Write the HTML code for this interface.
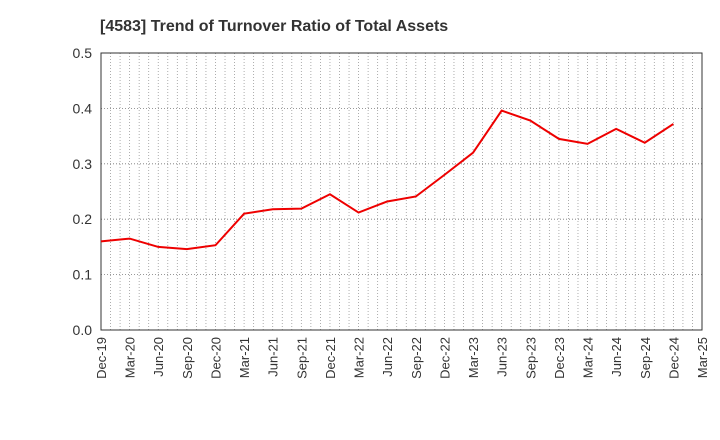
<!DOCTYPE html>
<html><head><meta charset="utf-8"><style>body{margin:0;background:#fff}svg{display:block;font-family:"Liberation Sans",sans-serif}</style></head>
<body>
<svg id="c" width="720" height="440">
<text x="100" y="31" font-size="16" font-weight="bold" fill="#333">[4583]  Trend of Turnover Ratio of Total Assets</text>
</svg>
<script>
const categories=["Dec-19","Mar-20","Jun-20","Sep-20","Dec-20","Mar-21","Jun-21","Sep-21","Dec-21","Mar-22","Jun-22","Sep-22","Dec-22","Mar-23","Jun-23","Sep-23","Dec-23","Mar-24","Jun-24","Sep-24","Dec-24","Mar-25"];
const values=[0.160,0.165,0.150,0.146,0.153,0.210,0.218,0.219,0.245,0.212,0.232,0.241,0.280,0.320,0.396,0.378,0.345,0.336,0.363,0.338,0.372];
const yTicks=[0,0.1,0.2,0.3,0.4,0.5];
const yTickLabels=["0.0","0.1","0.2","0.3","0.4","0.5"];
const L=101,R=702,T=53,B=330,NS="http://www.w3.org/2000/svg",svg=document.getElementById('c');
const months=(categories.length-1)*3;
const x=i=>L+(R-L)*i/(categories.length-1);
const xm=m=>L+(R-L)*m/months;
const y=v=>B-(B-T)*v/0.5;
function mk(t,a,p){const e=document.createElementNS(NS,t);for(const k in a)e.setAttribute(k,a[k]);(p||svg).appendChild(e);return e;}
for(let m=1;m<months;m++){const l=mk('line',{x1:xm(m),x2:xm(m),y1:T,y2:B,stroke:'#999','stroke-width':0.8,'stroke-dasharray':'1,2'});

}
yTicks.forEach((v,i)=>{if(v>0&&v<0.5){const g=mk('line',{x1:L,x2:R,y1:y(v),y2:y(v),stroke:'#777','stroke-width':0.8,'stroke-dasharray':'1,2'});

}
const t=mk('text',{x:L-9,y:y(v)+5,'text-anchor':'end','font-size':14,fill:'#333'});t.textContent=yTickLabels[i];

});
categories.forEach((c,i)=>{const t=mk('text',{transform:`translate(${x(i)+5},337) rotate(-90)`,'text-anchor':'end','font-size':13,fill:'#333'});t.textContent=c;

});
const f=mk('rect',{x:L,y:T,width:R-L,height:B-T,fill:'none',stroke:'#333','stroke-width':1});


const p=mk('polyline',{points:values.map((v,i)=>x(i)+','+y(v)).join(' '),fill:'none',stroke:'#e00','stroke-width':2});


</script>
</body></html>
